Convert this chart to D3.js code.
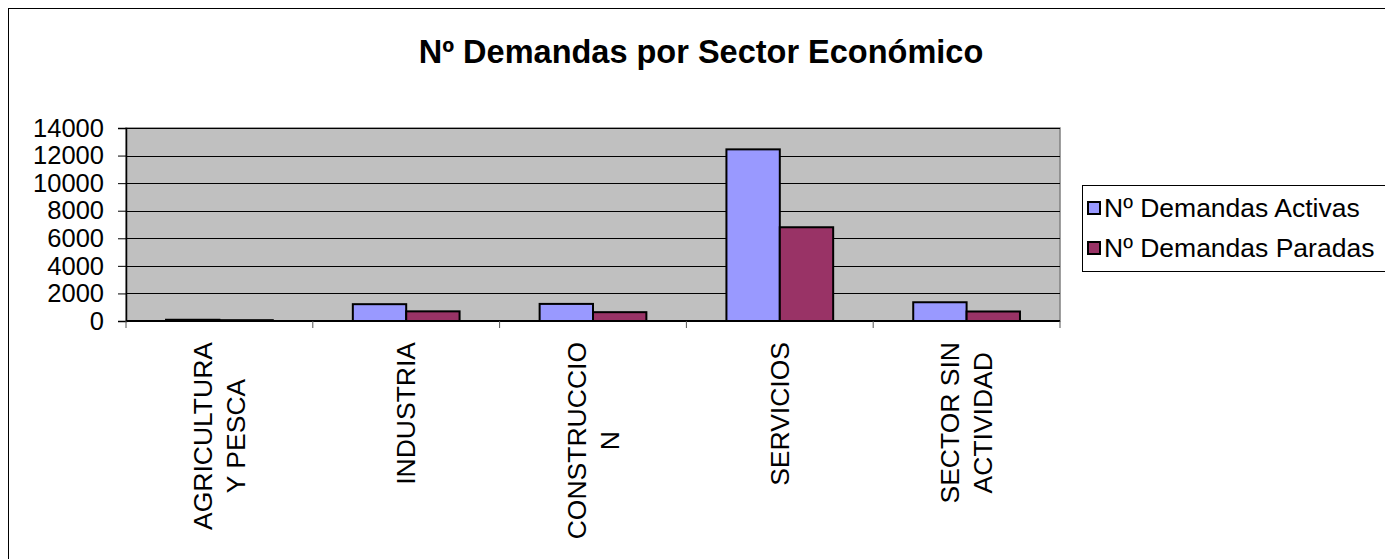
<!DOCTYPE html>
<html><head><meta charset="utf-8">
<script src="https://cdn.jsdelivr.net/npm/d3@7"></script>
<style>body{margin:0;background:#fff;} svg{display:block;font-family:"Liberation Sans",Arial,sans-serif;}</style>
</head><body>
<svg id="c" width="1385" height="559"></svg>
<script>
const categories = ["AGRICULTURA Y PESCA", "INDUSTRIA", "CONSTRUCCION", "SERVICIOS", "SECTOR SIN ACTIVIDAD"];
const categoryLines = [["AGRICULTURA", "Y PESCA"], ["INDUSTRIA"], ["CONSTRUCCIO", "N"], ["SERVICIOS"], ["SECTOR SIN", "ACTIVIDAD"]];
const seriesNames = ["Nº Demandas Activas", "Nº Demandas Paradas"];
const activas = [90, 1220, 1240, 12450, 1360];
const paradas = [60, 700, 640, 6800, 690];
const yTicks = [0, 2000, 4000, 6000, 8000, 10000, 12000, 14000];
const colors = ["#9999FF", "#993366"];

const svg = d3.select("#c");
const L = 126, R = 1060, T = 128, B = 321;

svg.append("rect").attr("x", 8.5).attr("y", 8.5).attr("width", 1500).attr("height", 700)
  .attr("fill", "#fff").attr("stroke", "#000").attr("stroke-width", 1);

svg.append("text").attr("x", 701).attr("y", 63).attr("text-anchor", "middle")
  .attr("font-size", 32.5).attr("font-weight", "bold").text("Nº Demandas por Sector Económico");

const x = d3.scaleBand().domain(categories).range([L, R]).paddingInner(0).paddingOuter(0);
const y = d3.scaleLinear().domain([0, 14000]).range([B, T]);
const bw = x.bandwidth();
const x1 = d3.scaleBand().domain(seriesNames).range([bw * 0.75 / 3.5, bw * 2.75 / 3.5]).padding(0);

svg.append("rect").attr("x", L).attr("y", T).attr("width", R - L).attr("height", B - T)
  .attr("fill", "#C0C0C0").attr("stroke", "#808080").attr("stroke-width", 1.5);

svg.append("g").selectAll("line").data(yTicks.filter(d => d > 0)).join("line")
  .attr("x1", L).attr("x2", R).attr("y1", d => Math.round(y(d)) + 0.5).attr("y2", d => Math.round(y(d)) + 0.5)
  .attr("stroke", "#000").attr("stroke-width", 1);

const data = categories.map((c, i) => ({c, vals: [activas[i], paradas[i]]}));
const g = svg.append("g").selectAll("g").data(data).join("g")
  .attr("transform", d => `translate(${x(d.c)},0)`);
g.selectAll("rect").data(d => d.vals.map((v, j) => ({v, s: seriesNames[j], j}))).join("rect")
  .attr("x", d => x1(d.s)).attr("width", x1.bandwidth())
  .attr("y", d => y(d.v)).attr("height", d => B - y(d.v))
  .attr("fill", d => colors[d.j]).attr("stroke", "#000").attr("stroke-width", 2);

// y axis
const ya = svg.append("g").attr("transform", `translate(${L},0)`)
  .call(d3.axisLeft(y).tickValues(yTicks).tickSize(8).tickPadding(14).tickFormat(d3.format("d")));
ya.select(".domain").attr("stroke", "#000").attr("stroke-width", 1.5);
ya.selectAll(".tick line").attr("stroke", "#000");
ya.selectAll("text").attr("font-size", 25.5).attr("fill", "#000").attr("font-family", "Liberation Sans, Arial, sans-serif");

// x axis
svg.append("line").attr("x1", L).attr("x2", R).attr("y1", B).attr("y2", B).attr("stroke", "#000").attr("stroke-width", 2);
svg.append("g").selectAll("line").data(d3.range(categories.length + 1)).join("line")
  .attr("x1", i => L + i * bw).attr("x2", i => L + i * bw).attr("y1", B).attr("y2", B + 7)
  .attr("stroke", "#555").attr("stroke-width", 1);

const xl = svg.append("g").selectAll("text").data(data).join("text")
  .attr("text-anchor", "middle").attr("font-size", 26.5);
xl.each(function(d, i) {
  const el = d3.select(this);
  const lines = categoryLines[i];
  const n = lines.length;
  lines.forEach((ln, k) => {
    el.append("tspan").attr("x", 0).attr("y", (k - (n - 1) / 2) * 33 + 9).text(ln);
  });
  let maxLen = 0;
  el.selectAll("tspan").each(function() { maxLen = Math.max(maxLen, this.getComputedTextLength()); });
  el.attr("transform", `translate(${x(d.c) + bw / 2},${342 + maxLen / 2}) rotate(-90)`);
});

// legend
const lg = svg.append("g");
lg.append("rect").attr("x", 1082.5).attr("y", 185.5).attr("width", 400).attr("height", 86)
  .attr("fill", "#fff").attr("stroke", "#000").attr("stroke-width", 1);
seriesNames.forEach((s, i) => {
  const cy = 208 + i * 40;
  lg.append("rect").attr("x", 1088).attr("y", cy - 6).attr("width", 12).attr("height", 12)
    .attr("fill", colors[i]).attr("stroke", "#000").attr("stroke-width", 2);
  lg.append("text").attr("x", 1104).attr("y", cy + 9).attr("font-size", 26.5).text(s);
});
</script>
</body></html>
